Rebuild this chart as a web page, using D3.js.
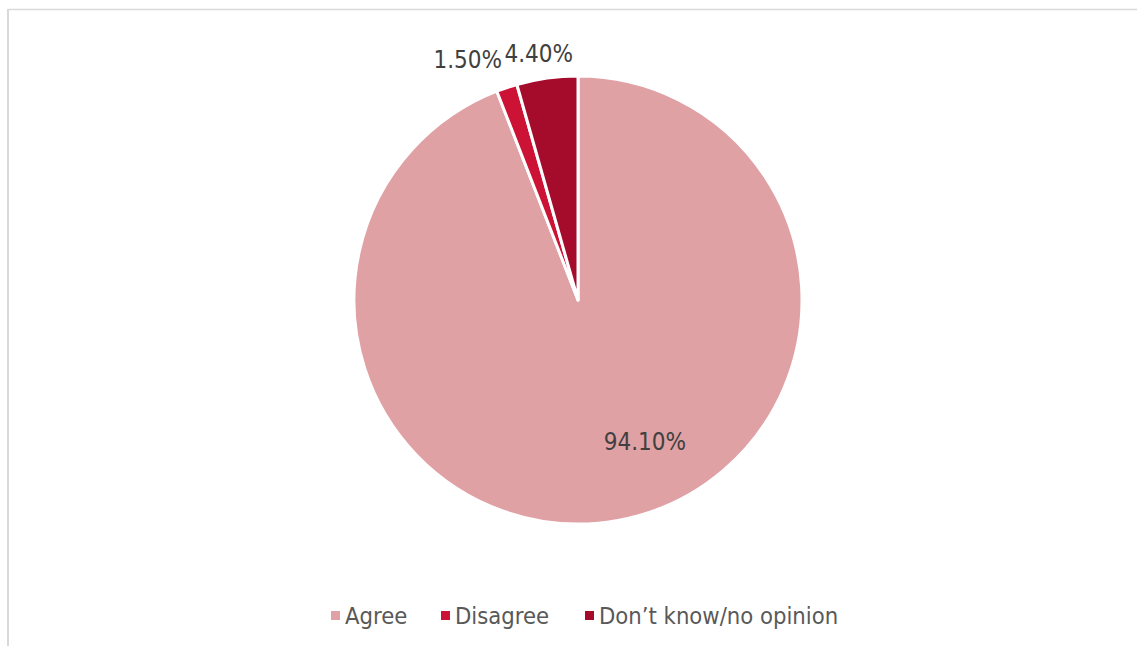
<!DOCTYPE html>
<html><head><meta charset="utf-8">
<script src="https://cdn.jsdelivr.net/npm/d3@7"></script>
<style>body{margin:0;background:#fff}svg{display:block}</style>
</head><body>
<svg id="c" width="1138" height="646"></svg>
<script>
const categories = ["Agree", "Disagree", "Don\u2019t know/no opinion"];
const values = [94.1, 1.5, 4.4];
const labels = ["94.10%", "1.50%", "4.40%"];
const colors = ["#e0a1a5", "#cc1235", "#a50b2b"];

const W = 1138, H = 646;
const svg = d3.select("#c");
const font = "'DejaVu Sans Condensed', 'DejaVu Sans', sans-serif";

// frame
svg.append("line").attr("x1", 8).attr("x2", 1137).attr("y1", 9.5).attr("y2", 9.5).attr("stroke", "#d9d9d9").attr("stroke-width", 1.5);
svg.append("line").attr("x1", 8).attr("x2", 8).attr("y1", 9).attr("y2", H).attr("stroke", "#d9d9d9").attr("stroke-width", 2);

const cx = 578, cy = 300, r = 224;
const pie = d3.pie().sort(null).value(d => d)(values);
const arc = d3.arc().innerRadius(0).outerRadius(r);
const g = svg.append("g").attr("transform", `translate(${cx},${cy})`);
g.selectAll("path").data(pie).join("path")
  .attr("d", arc).attr("fill", (d, i) => colors[i])
  .attr("stroke", "#fff").attr("stroke-width", 3).attr("stroke-linejoin", "round");

// label placement: polar with radius factors and small shifts
const labelRadius = [0.70, 1.17, 1.11];
const labelShift = [[38, -12], [-27, 8], [-5, 0]];
g.selectAll("text.lbl").data(pie).join("text").attr("class", "lbl")
  .each(function (d, i) {
    const a = (d.startAngle + d.endAngle) / 2;
    const rr = r * labelRadius[i];
    const x = Math.sin(a) * rr + labelShift[i][0];
    const y = -Math.cos(a) * rr + labelShift[i][1];
    d3.select(this).attr("x", x).attr("y", y);
  })
  .attr("text-anchor", "middle").attr("dominant-baseline", "central")
  .attr("font-family", font).attr("font-size", 24).attr("fill", "#404040")
  .text((d, i) => labels[i]);

// legend
const legX = [331, 441, 585];
const leg = svg.append("g");
categories.forEach((c, i) => {
  leg.append("rect").attr("x", legX[i]).attr("y", 611).attr("width", 9).attr("height", 9).attr("fill", colors[i]);
  leg.append("text").attr("x", legX[i] + 14).attr("y", 624)
    .attr("font-family", font).attr("font-size", 23.6).attr("fill", "#595959").text(c);
});
</script>
</body></html>
